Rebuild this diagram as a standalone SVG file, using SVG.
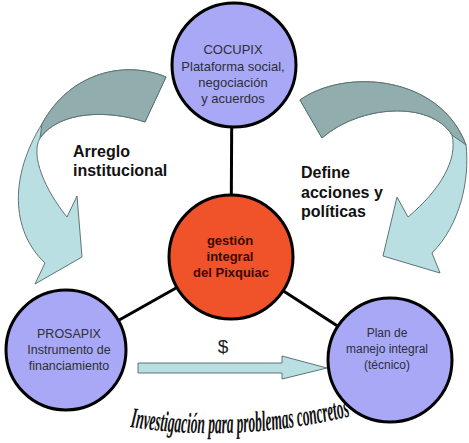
<svg xmlns="http://www.w3.org/2000/svg" width="469" height="443" viewBox="0 0 469 443">
<defs>
<style>
.arr-light{fill:#b9dfe2;stroke:#5f7474;stroke-width:1}
.arr-dark{fill:#92adae;stroke:#5f7474;stroke-width:1}
.node{fill:#a8a8f7;stroke:#000;stroke-width:3}
.core{fill:#f0522a;stroke:#000;stroke-width:3}
.conn{stroke:#000;stroke-width:3;fill:none}
.nt{font-family:"Liberation Sans",Arial,sans-serif;font-size:13px;fill:#2e2e3a;text-anchor:middle}
.ct{font-family:"Liberation Sans",Arial,sans-serif;font-size:13px;font-weight:bold;fill:#3a0800;text-anchor:middle}
.lbl{font-family:"Liberation Sans",Arial,sans-serif;font-size:16px;font-weight:bold;fill:#111}
</style>
<path id="arc" d="M130,427 Q240,444 355,415"/>
</defs>
<g id="arrow-left">
<path class="arr-light" d="M166,77 C125,60 70,72 42,124 C10,175 10,230 45,263 L35,284 L82,257 L77,196 L67,217 C45,190 30,155 40,138 C60,110 110,110 145,122 Z"/>
<path class="arr-dark" d="M166,77 C125,60 70,72 42,124 L40,138 C60,110 110,110 145,122 Z"/>
</g>
<g id="arrow-right">
<path class="arr-light" d="M300,100 C345,68 440,75 466,145 C470,180 460,225 432,253 L440,273 L383,256 L397,197 L408,217 C440,190 458,160 452,135 C430,100 360,105 322,138 Z"/>
<path class="arr-dark" d="M300,100 C345,68 440,75 466,145 L452,135 C430,100 360,105 322,138 Z"/>
</g>
<g id="arrow-money">
<path class="arr-light" d="M138,363 L282,363 L282,356 L327,368 L282,379 L282,373 L138,373 Z"/>
</g>
<g id="connectors">
<line class="conn" x1="231" y1="257" x2="232" y2="65"/>
<line class="conn" x1="231" y1="257" x2="66" y2="350"/>
<line class="conn" x1="231" y1="257" x2="390" y2="360"/>
</g>
<g id="cocupix">
<circle class="node" cx="234" cy="65" r="62"/>
<text class="nt" x="233" y="54">COCUPIX</text>
<text class="nt" x="233" y="71">Plataforma social,</text>
<text class="nt" x="233" y="87">negociación</text>
<text class="nt" x="233" y="103">y acuerdos</text>
</g>
<g id="gestion">
<circle class="core" cx="231" cy="257" r="62"/>
<text class="ct" x="230" y="245">gestión</text>
<text class="ct" x="230" y="261">integral</text>
<text class="ct" x="231" y="277">del Pixquiac</text>
</g>
<g id="prosapix">
<circle class="node" cx="66" cy="350" r="60"/>
<text class="nt" x="69" y="338" style="font-size:12.5px">PROSAPIX</text>
<text class="nt" x="69" y="354" style="font-size:12.5px">Instrumento de</text>
<text class="nt" x="69" y="370" style="font-size:12.5px">financiamiento</text>
</g>
<g id="plan">
<circle class="node" cx="390" cy="360" r="62"/>
<text class="nt" x="387" y="337" style="font-size:12px">Plan de</text>
<text class="nt" x="387" y="353" style="font-size:12px">manejo integral</text>
<text class="nt" x="387" y="369" style="font-size:12px">(técnico)</text>
</g>
<g id="labels">
<text class="lbl" x="73" y="157">Arreglo</text>
<text class="lbl" x="73" y="176">institucional</text>
<text class="lbl" x="301" y="178">Define</text>
<text class="lbl" x="301" y="198">acciones y</text>
<text class="lbl" x="301" y="217">políticas</text>
<text x="223" y="353" style="font-family:'Liberation Sans',Arial,sans-serif;font-size:19px;fill:#222;text-anchor:middle">$</text>
<text style="font-family:'Liberation Serif','Times New Roman',serif;font-style:italic;font-weight:bold;font-size:29px;fill:#111"><textPath href="#arc" textLength="222" lengthAdjust="spacingAndGlyphs">Investigación para problemas concretos</textPath></text>
</g>
</svg>
